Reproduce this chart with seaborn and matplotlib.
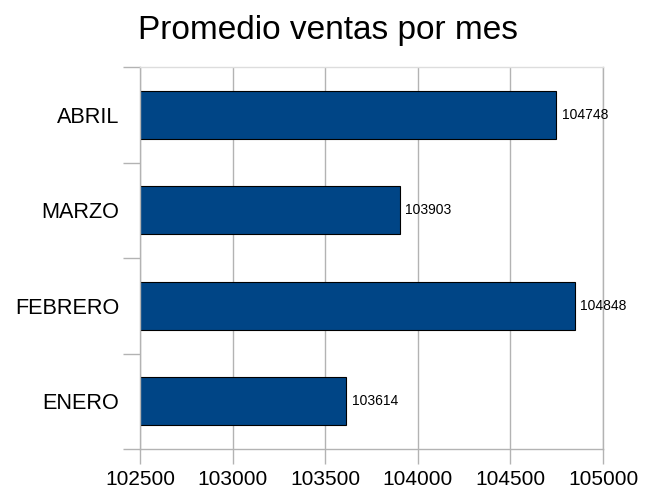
import matplotlib
matplotlib.use('Agg')
import matplotlib.pyplot as plt
import seaborn as sns
import pandas as pd
from matplotlib.ticker import MultipleLocator

meses = ['ENERO', 'FEBRERO', 'MARZO', 'ABRIL']
promedios = [103614, 104848, 103903, 104748]
x_ticks = [102500, 103000, 103500, 104000, 104500, 105000]

sns.set_theme(style='white')
plt.rcParams['font.family'] = ['Liberation Sans', 'DejaVu Sans']
plt.rcParams['text.color'] = 'black'
plt.rcParams['xtick.labelcolor'] = 'black'
plt.rcParams['ytick.labelcolor'] = 'black'

df = pd.DataFrame({'Mes': meses, 'Promedio': promedios})

fig = plt.figure(figsize=(6.55, 4.92), dpi=100)
ax = fig.add_axes([140 / 655, 1 - 449 / 492, 463 / 655, 382 / 492])

sns.barplot(data=df, x='Promedio', y='Mes', order=meses[::-1], orient='h',
            color='#004586', saturation=1, width=0.5,
            edgecolor='black', linewidth=0.8, ax=ax)

ax.set_xlim(x_ticks[0], x_ticks[-1])
ax.set_xticks(x_ticks)
ax.set_xticklabels([str(t) for t in x_ticks])
ax.set_ylim(len(meses) - 0.5, -0.5)
ax.yaxis.set_minor_locator(MultipleLocator(1, offset=0.5))
ax.set_xlabel('')
ax.set_ylabel('')

ax.grid(axis='x', color='#b3b3b3', linewidth=1)
ax.set_axisbelow(True)
for s in ax.spines.values():
    s.set_color('#b3b3b3')
    s.set_linewidth(1)
ax.spines['top'].set_color('#dddddd')

ax.tick_params(axis='x', which='major', length=11, color='#b3b3b3', width=1,
               labelsize=15, pad=4, direction='out', bottom=True)
ax.tick_params(axis='y', which='major', length=0, labelsize=15.6, pad=15)
ax.tick_params(axis='y', which='minor', length=12, color='#b3b3b3', width=1,
               left=True, direction='out')

ax.bar_label(ax.containers[0], fmt='%d', padding=4, fontsize=10, color='black')

fig.text(0.5, 0.939, 'Promedio ventas por mes', ha='center', va='center', fontsize=24)

fig.savefig('out.png', dpi=100)
